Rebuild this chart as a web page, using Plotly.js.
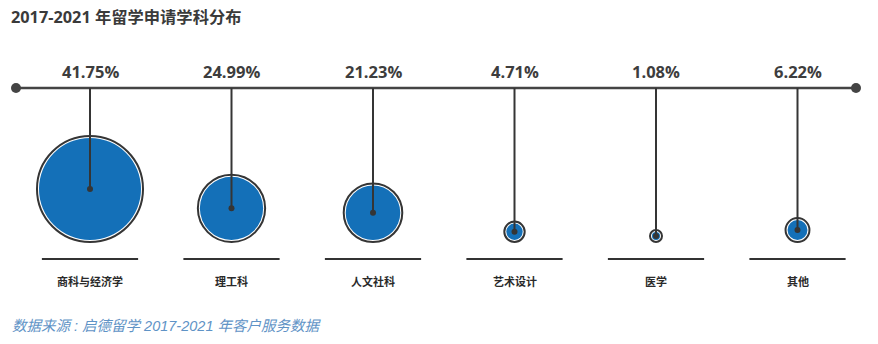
<!DOCTYPE html>
<html>
<head>
<meta charset="utf-8">
<script src="https://cdn.plot.ly/plotly-3.0.1.min.js"></script>
<style>html,body{margin:0;padding:0;background:#fff;}#chart{width:878px;height:344px;}</style>
</head>
<body>
<div id="chart"></div>
<script>
const categories = ['商科与经济学', '理工科', '人文社科', '艺术设计', '医学', '其他'];
const shares = [41.75, 24.99, 21.23, 4.71, 1.08, 6.22];
const shareLabels = shares.map(v => v.toFixed(2) + '%');
const chartTitle = '2017-2021 年留学申请学科分布';
const sourceNote = '数据来源 : 启德留学 2017-2021 年客户服务数据';

// layout constants (pixel-like y axis)
const W = 878, H = 344;
const lineY = 88, baseY = 243, underlineY = 259, pctY = 71, catY = 281;
const dark = '#353535', blue = '#1470b8';
const radius = v => 1.156 * v + 5.75;   // outer ring radius from share
const R = shares.map(radius);
const cy = R.map(r => baseY - r);

const stemX = [], stemY = [];
categories.forEach((c, i) => { stemX.push(c, c, null); stemY.push(lineY, cy[i], null); });

const traces = [
  {x: categories, y: cy, mode: 'markers', hoverinfo: 'skip',
   marker: {size: R.map(r => 2 * r - 2), color: '#ffffff', opacity: 1, line: {color: dark, width: 2}}},
  {x: categories, y: cy, mode: 'markers', hoverinfo: 'skip',
   marker: {size: R.map(r => 2 * (r - 3)), color: blue, opacity: 1, line: {width: 0}}},
  {x: stemX, y: stemY, mode: 'lines', line: {color: dark, width: 2}, hoverinfo: 'skip', connectgaps: false},
  {x: categories, y: cy, mode: 'markers', hoverinfo: 'skip',
   marker: {size: 6, color: dark, opacity: 1, line: {width: 0}}}
];

// x axis: category index -> pixel mapping
const x0px = 90, stepPx = 141.5;
const xr = [-x0px / stepPx, (W - x0px) / stepPx];

const shapes = [
  {type: 'line', xref: 'paper', yref: 'y', x0: 16 / W, x1: 856 / W, y0: lineY, y1: lineY, line: {color: '#444', width: 2.5}, layer: 'below'},
  {type: 'circle', xref: 'paper', yref: 'y', x0: 11 / W, x1: 21 / W, y0: lineY - 5, y1: lineY + 5, fillcolor: '#444', line: {width: 0}},
  {type: 'circle', xref: 'paper', yref: 'y', x0: 851 / W, x1: 861 / W, y0: lineY - 5, y1: lineY + 5, fillcolor: '#444', line: {width: 0}}
];
categories.forEach((c, i) => {
  shapes.push({type: 'line', xref: 'x', yref: 'y', x0: i - 0.34, x1: i + 0.34, y0: underlineY, y1: underlineY, line: {color: '#333', width: 2}});
});

const font = '"Open Sans", "Noto Sans CJK SC", sans-serif';
const annotations = [];
categories.forEach((c, i) => {
  annotations.push({x: c, y: pctY, xref: 'x', yref: 'y', text: '<b>' + shareLabels[i] + '</b>', showarrow: false,
    font: {family: font, size: 16.5, color: '#3d3d3d'}, xanchor: 'center', yanchor: 'middle'});
  annotations.push({x: c, y: catY, xref: 'x', yref: 'y', text: '<b>' + c + '</b>', showarrow: false,
    font: {family: '"Noto Sans CJK SC", sans-serif', size: 11, color: '#2a2a2a'}, xanchor: 'center', yanchor: 'middle'});
});
annotations.push({x: 9 / W, y: 17, xref: 'paper', yref: 'y', text: '<b>' + chartTitle + '</b>', showarrow: false,
  font: {family: font, size: 16.3, color: '#3a3a3a'}, xanchor: 'left', yanchor: 'middle'});
annotations.push({x: 10 / W, y: 326, xref: 'paper', yref: 'y', text: '<i>' + sourceNote + '</i>', showarrow: false,
  font: {family: '"Liberation Sans", "Noto Sans CJK SC", sans-serif', size: 14.5, color: '#5f93c6'}, xanchor: 'left', yanchor: 'middle'});

const layout = {
  width: W, height: H, margin: {l: 0, r: 0, t: 0, b: 0},
  paper_bgcolor: '#fff', plot_bgcolor: '#fff', showlegend: false,
  xaxis: {type: 'category', range: xr, visible: false, fixedrange: true},
  yaxis: {range: [H, 0], visible: false, fixedrange: true},
  shapes: shapes, annotations: annotations
};
Plotly.newPlot('chart', traces, layout, {staticPlot: true, displayModeBar: false});
</script>
</body>
</html>
